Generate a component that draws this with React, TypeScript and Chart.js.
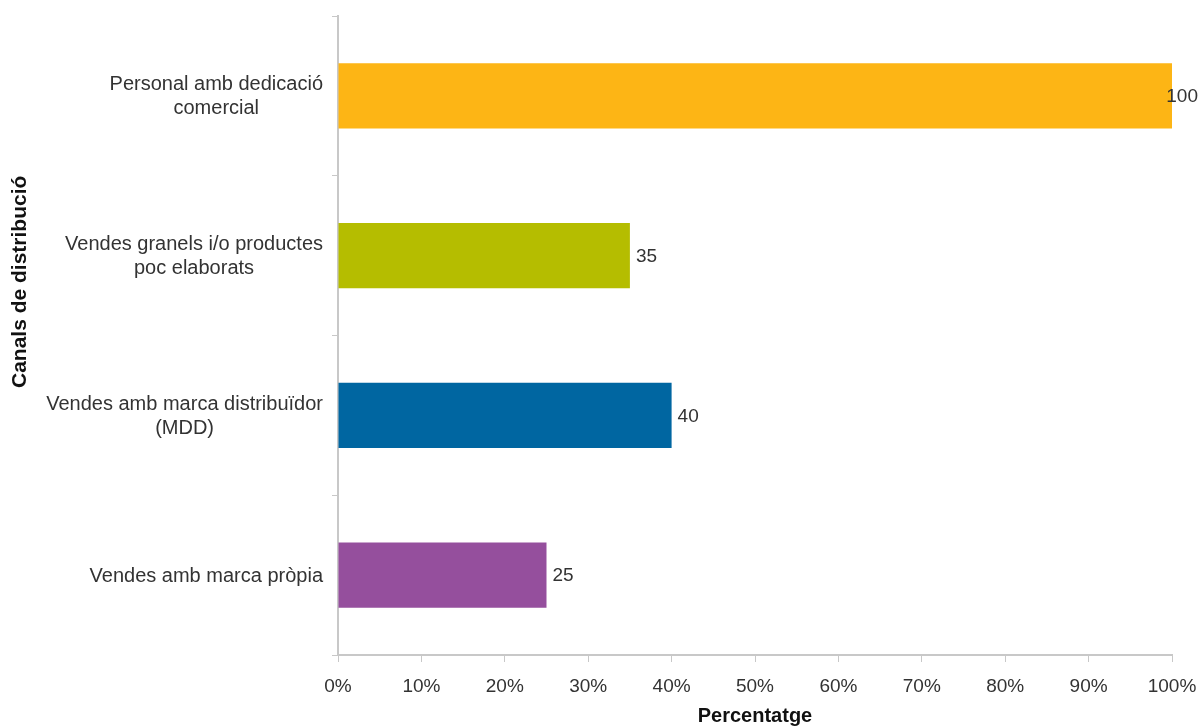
import React, { useEffect, useRef } from "react";
import { Chart, registerables } from "chart.js";

Chart.register(...registerables);

const categories: string[][] = [
  ["Personal amb dedicació", "comercial"],
  ["Vendes granels i/o productes", "poc elaborats"],
  ["Vendes amb marca distribuïdor", "(MDD)"],
  ["Vendes amb marca pròpia"],
];
const values: number[] = [100, 35, 40, 25];
const barColors: string[] = ["#FDB515", "#B5BD00", "#0066A1", "#954F9D"];
const xTickLabels: string[] = ["0%", "10%", "20%", "30%", "40%", "50%", "60%", "70%", "80%", "90%", "100%"];
const xTitle = "Percentatge";
const yTitle = "Canals de distribució";

const FONT = "'Liberation Sans', Arial, sans-serif";
const TEXT = "#333333";
const AXIS = "#c8c8c8";

const customDraw = {
  id: "customDraw",
  afterDraw(chart: any) {
    const ctx = chart.ctx;
    const yScale = chart.scales.y;
    const area = chart.chartArea;
    ctx.save();
    // category labels
    ctx.font = `20px ${FONT}`;
    ctx.fillStyle = TEXT;
    ctx.textBaseline = "middle";
    ctx.textAlign = "center";
    const rightEdge = area.left - 15;
    const lh = 24;
    categories.forEach((lines, i) => {
      const cy = yScale.getPixelForValue(i);
      const maxW = Math.max(...lines.map((l) => ctx.measureText(l).width));
      const cx = rightEdge - maxW / 2;
      const startY = cy - ((lines.length - 1) * lh) / 2 + 1;
      lines.forEach((l, j) => ctx.fillText(l, cx, startY + j * lh));
    });
    // data labels
    ctx.font = `19px ${FONT}`;
    ctx.textAlign = "left";
    const meta = chart.getDatasetMeta(0);
    meta.data.forEach((bar: any, i: number) => {
      const txt = String(values[i]);
      const w = ctx.measureText(txt).width;
      let x = bar.x + 6;
      if (x + w > chart.width - 2) x = chart.width - 2 - w;
      ctx.fillText(txt, x, bar.y + 1);
    });
    // axis titles
    ctx.fillStyle = "#111111";
    ctx.textAlign = "center";
    ctx.font = `bold 20px ${FONT}`;
    ctx.fillText(xTitle, (area.left + area.right) / 2, 716);
    ctx.font = `bold 21px ${FONT}`;
    ctx.translate(20, area.top + (area.bottom - area.top) * 0.416);
    ctx.rotate(-Math.PI / 2);
    ctx.fillText(yTitle, 0, 0);
    ctx.restore();
  },
};

export default function App() {
  const ref = useRef<HTMLCanvasElement>(null);
  useEffect(() => {
    if (!ref.current) return;
    const chart = new Chart(ref.current, {
      type: "bar",
      data: {
        labels: categories.map((c) => c.join(" ")),
        datasets: [
          {
            data: values,
            backgroundColor: barColors,
            borderWidth: 0,
            categoryPercentage: 1,
            barPercentage: 0.41,
          },
        ],
      },
      plugins: [customDraw],
      options: {
        indexAxis: "y",
        animation: false,
        responsive: false,
        devicePixelRatio: 1,
        layout: { padding: { top: 16, right: 28, left: 0, bottom: 0 } },
        plugins: { legend: { display: false }, tooltip: { enabled: false } },
        scales: {
          x: {
            min: 0,
            max: 100,
            afterFit: (s: any) => {
              s.height = 72;
              s.paddingRight = 0;
            },
            ticks: {
              stepSize: 10,
              color: TEXT,
              font: { family: FONT, size: 19 },
              padding: 13,
              maxRotation: 0,
              callback: (_v: any, i: number) => xTickLabels[i],
            },
            grid: {
              drawOnChartArea: false,
              drawTicks: true,
              tickLength: 7,
              color: AXIS,
            },
            border: { display: true, color: AXIS, width: 2 },
          },
          y: {
            afterFit: (s: any) => {
              s.width = 338;
            },
            ticks: { display: false },
            grid: {
              offset: true,
              drawOnChartArea: false,
              drawTicks: true,
              tickLength: 6,
              color: AXIS,
            },
            border: { display: true, color: AXIS, width: 2 },
          },
        },
      },
    });
    return () => chart.destroy();
  }, []);
  return (
    <div style={{ position: "fixed", left: 0, top: 0, width: 1200, height: 727, background: "#fff" }}>
      <canvas ref={ref} width={1200} height={727} style={{ width: 1200, height: 727 }} />
    </div>
  );
}
